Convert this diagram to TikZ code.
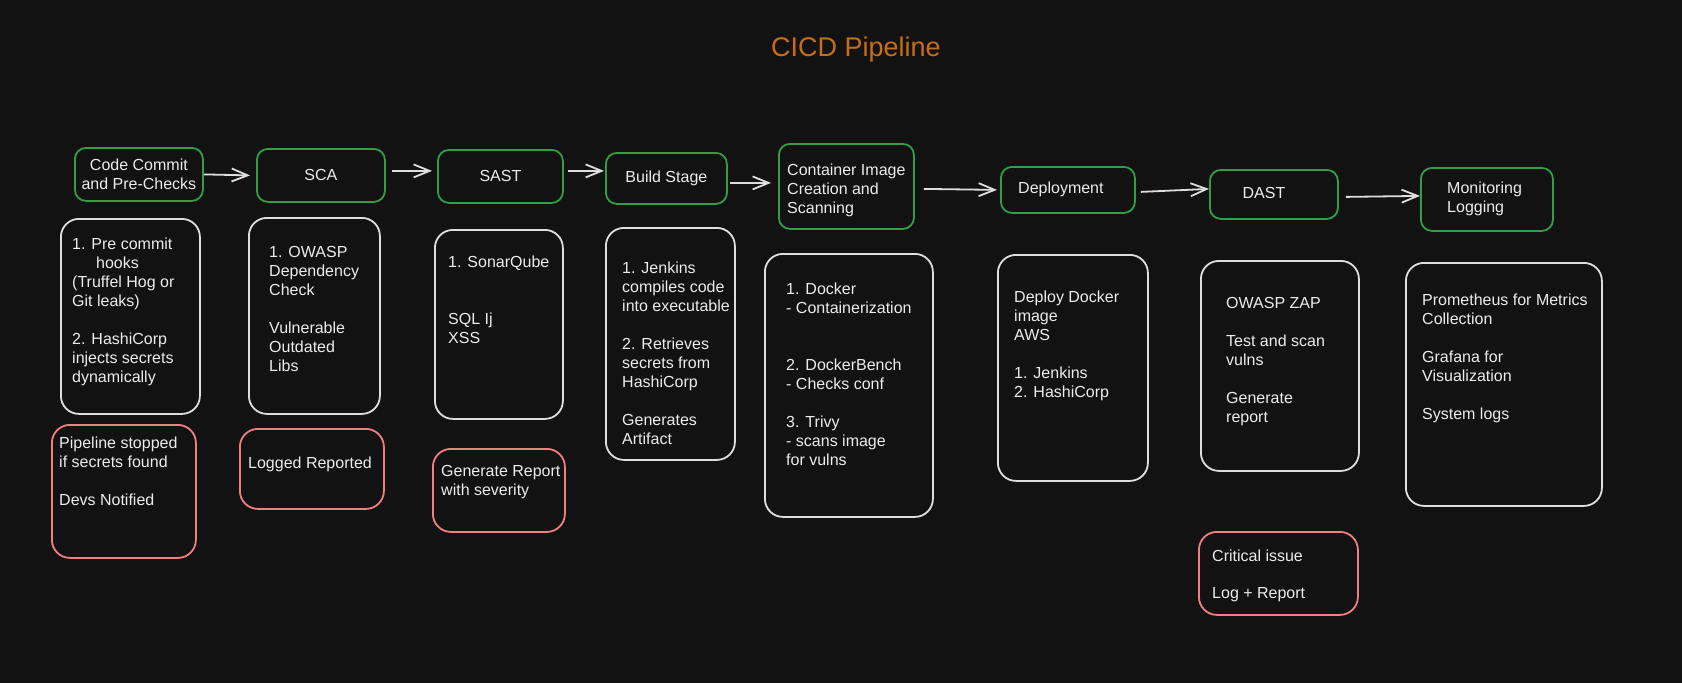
\documentclass[tikz,border=0pt]{standalone}
\usepackage{fontspec}
\setmainfont{Liberation Sans}
\usetikzlibrary{arrows.meta}
\definecolor{bg}{RGB}{18,18,18}
\definecolor{wht}{RGB}{222,222,222}
\definecolor{grn}{RGB}{52,158,70}
\definecolor{redc}{RGB}{240,128,128}
\definecolor{txtc}{RGB}{236,236,236}
\definecolor{orng}{RGB}{200,110,20}
\newcommand{\fs}{\fontsize{16}{19}\selectfont}
\tikzset{
  gbox/.style={draw=grn, line width=1.8pt, rounded corners=11pt, inner sep=0pt, anchor=north west, text=txtc, font=\fs, align=center},
  wbox/.style={draw=wht, line width=1.8pt, rounded corners=18pt, inner sep=0pt, anchor=north west},
  rbox/.style={draw=redc, line width=1.8pt, rounded corners=18pt, inner sep=0pt, anchor=north west},
  txt/.style={text=txtc, font=\fs, align=left, anchor=north west, inner sep=0pt},
  arr/.style={draw=wht, line width=1.8pt, -{Straight Barb[length=16pt,width=13pt,line width=1.8pt]}}
}
\begin{document}
\begin{tikzpicture}[x=1pt,y=-1pt]
\fill[bg] (0,0) rectangle (1682,683);
\useasboundingbox (0,0) rectangle (1682,683);

% title
\node[text=orng, font=\fontsize{27}{32}\selectfont, inner sep=0pt] (title) at (856,50) {CICD Pipeline};

% stage boxes
\node[gbox, minimum width=128pt, minimum height=53pt] (cc) at (74,147) {Code Commit\\and Pre-Checks};
\node[gbox, minimum width=128pt, minimum height=53pt] (sca) at (256,148) {SCA};
\node[gbox, minimum width=125pt, minimum height=53pt] (sast) at (437,149) {SAST};
\node[gbox, minimum width=121pt, minimum height=51pt] (build) at (605,152) {Build Stage};
\node[gbox, minimum width=135pt, minimum height=85pt] (cont) at (778,143) {};
\node[gbox, minimum width=134pt, minimum height=46pt] (dep) at (1000,166) {};
\node[gbox, minimum width=128pt, minimum height=49pt] (dast) at (1209,169) {};
\node[gbox, minimum width=132pt, minimum height=63pt] (mon) at (1420,167) {};

\node[txt] (conttx) at (787,161.7) {\strut Container Image\\Creation and\\Scanning};
\node[txt] (deptx) at (1018,179.7) {\strut Deployment};
\node[txt, anchor=center] (dasttx) at (1264,193) {DAST};
\node[txt] (montx) at (1447,179.7) {\strut Monitoring\\Logging};

% arrows
\draw[arr] (cc.east) -- ([xshift=-6pt]sca.west);
\draw[arr] ([xshift=6pt,yshift=4.5pt]sca.east) -- ([xshift=-5pt,yshift=5.5pt]sast.west);
\draw[arr] ([xshift=4pt,yshift=5.5pt]sast.east) -- ([xshift=-1pt,yshift=7.5pt]build.west);
\draw[arr] ([xshift=2pt,yshift=-4.5pt]build.east) -- ([xshift=-7pt,yshift=3.5pt]cont.west);
\draw[arr] ([xshift=9pt,yshift=-2.5pt]cont.east) -- ([xshift=-3pt]dep.west);
\draw[arr] ([xshift=5pt,yshift=-2pt]dep.east) -- ([yshift=5.5pt]dast.west);
\draw[arr] ([xshift=7pt,yshift=-2.5pt]dast.east) -- ([yshift=3.5pt]mon.west);

% detail boxes
\node[wbox, minimum width=139pt, minimum height=195pt] (w1) at (60,218) {};
\node[wbox, minimum width=131pt, minimum height=196pt] (w2) at (248,217) {};
\node[wbox, minimum width=128pt, minimum height=189pt] (w3) at (434,229) {};
\node[wbox, minimum width=129pt, minimum height=232pt] (w4) at (605,227) {};
\node[wbox, minimum width=168pt, minimum height=263pt] (w5) at (764,253) {};
\node[wbox, minimum width=150pt, minimum height=226pt] (w6) at (997,254) {};
\node[wbox, minimum width=158pt, minimum height=210pt] (w7) at (1200,260) {};
\node[wbox, minimum width=196pt, minimum height=243pt] (w8) at (1405,262) {};

\node[txt] (t1) at (72,235.7) {\strut 1. Pre commit\\\hspace*{24pt}hooks\\(Truffel Hog or\\Git leaks)\\[19pt]2. HashiCorp\\injects secrets\\dynamically};
\node[txt] (t2) at (269,243.7) {\strut 1. OWASP\\Dependency\\Check\\[19pt]Vulnerable\\Outdated\\Libs};
\node[txt] (t3) at (448,253.7) {\strut 1. SonarQube\\[38pt]SQL Ij\\XSS};
\node[txt] (t4) at (622,259.7) {\strut 1. Jenkins\\compiles code\\into executable\\[19pt]2. Retrieves\\secrets from\\HashiCorp\\[19pt]Generates\\Artifact};
\node[txt] (t5) at (786,280.7) {\strut 1. Docker\\- Containerization\\[38pt]2. DockerBench\\- Checks conf\\[19pt]3. Trivy\\- scans image\\for vulns};
\node[txt] (t6) at (1014,288.7) {\strut Deploy Docker\\image\\AWS\\[19pt]1. Jenkins\\2. HashiCorp};
\node[txt] (t7) at (1226,294.7) {\strut OWASP ZAP\\[19pt]Test and scan\\vulns\\[19pt]Generate\\report};
\node[txt] (t8) at (1422,291.7) {\strut Prometheus for Metrics\\Collection\\[19pt]Grafana for\\Visualization\\[19pt]System logs};

% result boxes
\node[rbox, minimum width=144pt, minimum height=133pt] (r1) at (51,424) {};
\node[rbox, minimum width=144pt, minimum height=80pt] (r2) at (239,428) {};
\node[rbox, minimum width=132pt, minimum height=83pt] (r3) at (432,448) {};
\node[rbox, minimum width=159pt, minimum height=83pt] (r7) at (1198,531) {};

\node[txt] (rt1) at (59,434.7) {\strut Pipeline stopped\\if secrets found\\[19pt]Devs Notified};
\node[txt] (rt2) at (248,454.7) {\strut Logged Reported};
\node[txt] (rt3) at (441,462.7) {\strut Generate Report\\with severity};
\node[txt] (rt7) at (1212,547.7) {\strut Critical issue\\[18pt]Log + Report};
\end{tikzpicture}
\end{document}
